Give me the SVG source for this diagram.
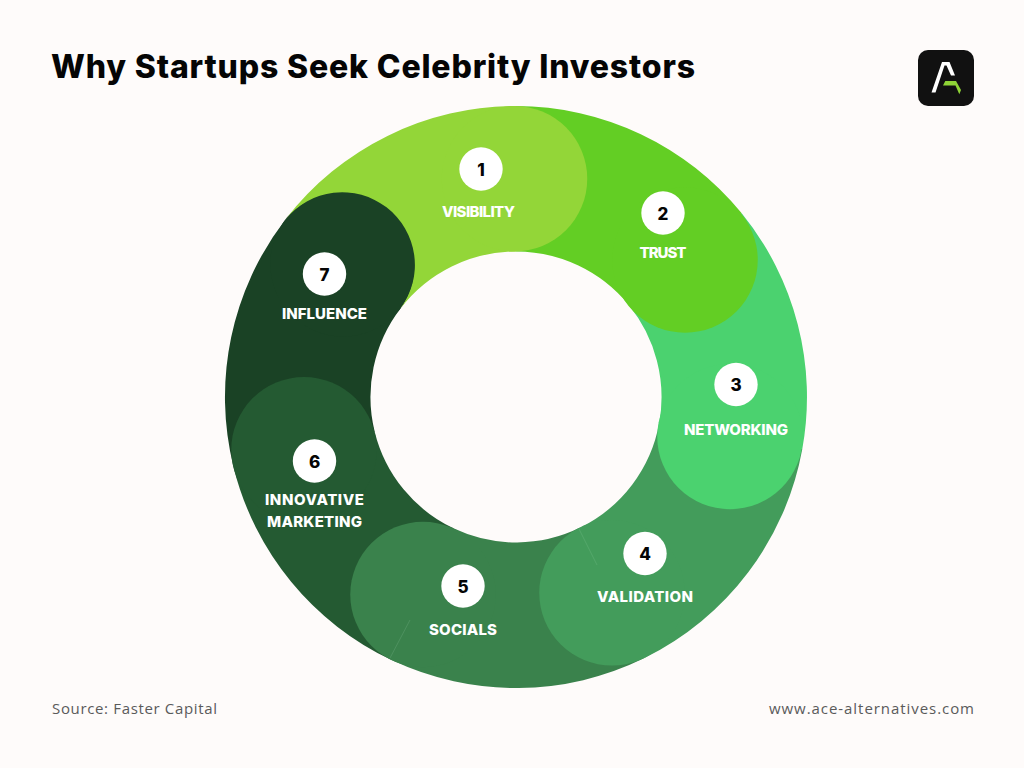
<svg xmlns="http://www.w3.org/2000/svg" width="1024" height="768" viewBox="0 0 1024 768">
<style>
.num{font:800 17px Inter,"Liberation Sans",sans-serif;fill:#050505;text-anchor:middle}
.lab{font:800 15px Inter,"Liberation Sans",sans-serif;fill:#fff;text-anchor:middle}
.foot{font:400 15px "Open Sans","Liberation Sans",sans-serif;fill:#5a5a5a}
.badge{fill:#fff}
</style>
<rect width="1024" height="768" fill="#fefbfa"/>
<text x="51" y="78" textLength="644" lengthAdjust="spacing" style="font:800 32px Inter,'Liberation Sans',sans-serif;fill:#050505">Why Startups Seek Celebrity Investors</text>
<g id="logo">
<rect x="918" y="50" width="56" height="56" rx="10" fill="#111"/>
<polygon points="931.5,92.5 942,62 949.5,62 955,75.5 951,75.5 946.5,65.5 944.5,65.5 935.5,92.5" fill="#fff"/>
<polygon points="943,85.5 945.3,81 956,81 961,90 959.3,94.3 955.5,85.5" fill="#8fd436"/>
</g>
<g id="node-7">
<path d="M400.7 308.2A145.5 145.5 0 0 0 374.8 432.2L233.6 467.4A291 291 0 0 1 285.4 219.5Z" fill="#1a4225"/>
<circle cx="343.1" cy="263.8" r="72.75" fill="#1a4225"/>
</g>
<g id="node-6">
<path d="M374.8 432.2A145.5 145.5 0 0 0 454 528.6L392.1 660.3A291 291 0 0 1 233.6 467.4Z" fill="#245a32"/>
<circle cx="304" cy="449.8" r="72.75" fill="#245a32"/>
</g>
<g id="node-5">
<path d="M454 528.6A145.5 145.5 0 0 0 580.2 527.6L644.5 658.1A291 291 0 0 1 392.1 660.3Z" fill="#3a824c"/>
<circle cx="423" cy="594.5" r="72.75" fill="#3a824c"/>
</g>
<g id="node-4">
<path d="M580.2 527.6A145.5 145.5 0 0 0 659.2 423L802.3 449A291 291 0 0 1 644.5 658.1Z" fill="#439c5b"/>
<circle cx="612" cy="592.8" r="72.75" fill="#439c5b"/>
</g>
<g id="node-3">
<path d="M659.2 423A145.5 145.5 0 0 0 628.7 305L741.5 213.1A291 291 0 0 1 802.3 449Z" fill="#4bd26f"/>
<circle cx="730" cy="436.5" r="72.75" fill="#4bd26f"/>
</g>
<g id="node-2">
<path d="M628.7 305A145.5 145.5 0 0 0 516 251.5L516 106A291 291 0 0 1 741.5 213.1Z" fill="#63ce24"/>
<circle cx="685" cy="260" r="72.75" fill="#63ce24"/>
</g>
<g id="node-1">
<path d="M285.4 219.5A291 291 0 0 1 516 106L516 251.5A145.5 145.5 0 0 0 400.7 308.2A72.75 72.75 0 0 0 285.4 219.5Z" fill="#93d638"/>
<circle cx="514.5" cy="178.75" r="72.75" fill="#93d638"/>
</g>
<g id="connectors">
<line x1="579" y1="529" x2="597" y2="565" stroke="#5fae74" stroke-width="0.6"/>
<line x1="390" y1="658" x2="410" y2="620" stroke="#5a9a6c" stroke-width="0.6"/>
</g>
<g id="label-1"><circle class="badge" cx="481" cy="169" r="21.7"/><text class="num" x="481" y="175.5">1</text><text class="lab" x="478.5" y="216.5" textLength="73">VISIBILITY</text></g>
<g id="label-2"><circle class="badge" cx="663" cy="213" r="21.7"/><text class="num" x="663" y="219.5">2</text><text class="lab" x="663" y="258" textLength="47">TRUST</text></g>
<g id="label-3"><circle class="badge" cx="736" cy="384.5" r="21.7"/><text class="num" x="736" y="391">3</text><text class="lab" x="736" y="435" textLength="104">NETWORKING</text></g>
<g id="label-4"><circle class="badge" cx="645" cy="553.5" r="21.7"/><text class="num" x="645" y="560">4</text><text class="lab" x="645" y="601.5" textLength="96">VALIDATION</text></g>
<g id="label-5"><circle class="badge" cx="463" cy="586" r="21.7"/><text class="num" x="463" y="592.5">5</text><text class="lab" x="463" y="634.5" textLength="68">SOCIALS</text></g>
<g id="label-6"><circle class="badge" cx="314.5" cy="461" r="21.7"/><text class="num" x="314.5" y="467.5">6</text><text class="lab" x="314.5" y="505" textLength="99">INNOVATIVE</text><text class="lab" x="314.5" y="527" textLength="95">MARKETING</text></g>
<g id="label-7"><circle class="badge" cx="324.5" cy="274" r="21.7"/><text class="num" x="324.5" y="280.5">7</text><text class="lab" x="324.5" y="318.5" textLength="85">INFLUENCE</text></g>
<text class="foot" x="52" y="714" textLength="165">Source: Faster Capital</text>
<text class="foot" x="769" y="714" textLength="205">www.ace-alternatives.com</text>
</svg>
